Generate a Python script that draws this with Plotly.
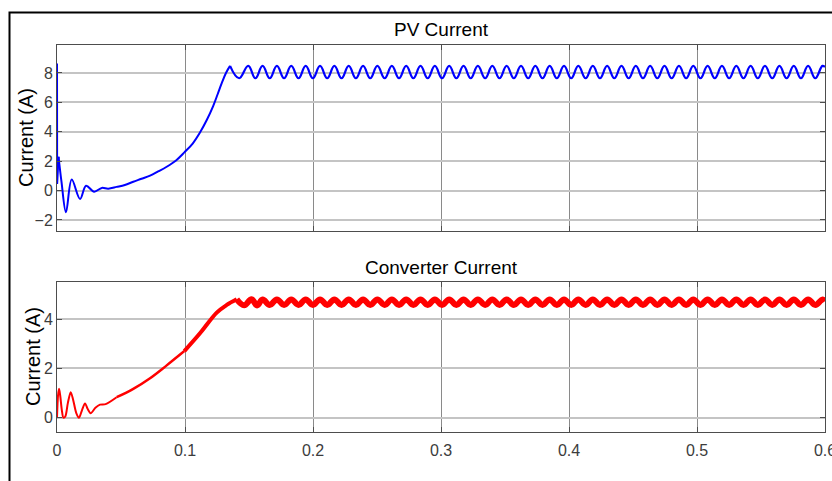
import plotly.graph_objects as go

# ---------------- data ----------------
# PV current: initial spike at t=0
pv_spike_t = [0.0, 0.0001, 0.0012]
pv_spike_i = [8.65, 0.45, 2.3]

# PV current: transient + rise
pv_rise_t = [0.0012, 0.0035, 0.007, 0.0115, 0.018, 0.0227, 0.029, 0.035, 0.040, 0.0466,
             0.053, 0.0596, 0.066, 0.0727, 0.079, 0.0857, 0.093, 0.0995, 0.106, 0.1117,
             0.117, 0.122, 0.1255, 0.1287, 0.132, 0.1352]
pv_rise_i = [2.3, 0.6, -1.48, 0.75, -0.57, 0.33, -0.08, 0.18, 0.13, 0.25,
             0.38, 0.6, 0.8, 1.02, 1.3, 1.62, 2.05, 2.6, 3.2, 3.95,
             4.8, 5.75, 6.55, 7.3, 8.0, 8.48]

# ripple extremes (peaks / troughs) of the steady state
ripple_peak_t = [0.1494, 0.1606, 0.1718, 0.1830, 0.1943, 0.2055, 0.2167, 0.2279, 0.2391, 0.2503,
                 0.2616, 0.2728, 0.2840, 0.2952, 0.3064, 0.3176, 0.3288, 0.3401, 0.3513, 0.3625,
                 0.3737, 0.3849, 0.3961, 0.4073, 0.4186, 0.4298, 0.4410, 0.4522, 0.4634, 0.4746,
                 0.4859, 0.4971, 0.5083, 0.5195, 0.5307, 0.5419, 0.5531, 0.5644, 0.5756, 0.5868,
                 0.5980]
ripple_trough_t = [0.1423, 0.1550, 0.1662, 0.1774, 0.1887, 0.1999, 0.2111, 0.2223, 0.2335, 0.2447,
                   0.2560, 0.2672, 0.2784, 0.2896, 0.3008, 0.3120, 0.3232, 0.3345, 0.3457, 0.3569,
                   0.3681, 0.3793, 0.3905, 0.4017, 0.4130, 0.4242, 0.4354, 0.4466, 0.4578, 0.4690,
                   0.4802, 0.4915, 0.5027, 0.5139, 0.5251, 0.5363, 0.5475, 0.5588, 0.5700, 0.5812,
                   0.5924]
pv_peak_i = 8.48
pv_trough_i = 7.64
pv_end = (0.6, 8.40)

# Converter current
conv_early_t = [0.0, 0.0008, 0.0016, 0.0025, 0.0038, 0.005, 0.0065, 0.0085, 0.0107, 0.0125,
                0.015, 0.0172, 0.0195, 0.0219, 0.024, 0.0263, 0.030, 0.0336, 0.038, 0.0466]
conv_early_i = [0.0, 0.9, 1.17, 0.9, 0.3, 0.0, 0.05, 0.6, 1.03, 0.75,
                0.2, 0.0, 0.3, 0.58, 0.35, 0.18, 0.4, 0.53, 0.55, 0.83]
conv_mid_t = [0.0466, 0.0596, 0.0727, 0.0857, 0.0995]
conv_mid_i = [0.83, 1.17, 1.6, 2.12, 2.7]
conv_late_t = [0.0995, 0.1117, 0.1248, 0.1326, 0.1404]
conv_late_i = [2.7, 3.42, 4.26, 4.57, 4.80]
conv_start_ripple_t = [0.1404, 0.1462, 0.1520, 0.1563]
conv_start_ripple_i = [4.80, 4.56, 4.80, 4.55]
conv_peak_i = 4.79
conv_trough_i = 4.57
conv_end = (0.6, 4.72)

x_ticks = [0, 0.1, 0.2, 0.3, 0.4, 0.5, 0.6]
x_tick_text = ["0", "0.1", "0.2", "0.3", "0.4", "0.5", "0.6"]
pv_y_ticks = [-2, 0, 2, 4, 6, 8]
conv_y_ticks = [0, 2, 4]

# ---------------- assemble ripple series ----------------
def merge(peaks_t, troughs_t, pv, tv, start_t, start_v, end):
    pts = [(t, pv) for t in peaks_t] + [(t, tv) for t in troughs_t]
    pts = [p for p in pts if p[0] > start_t[-1]]
    pts.sort()
    ts = list(start_t) + [p[0] for p in pts] + [end[0]]
    vs = list(start_v) + [p[1] for p in pts] + [end[1]]
    return ts, vs

pv_rip_t, pv_rip_i = merge(ripple_peak_t, ripple_trough_t, pv_peak_i, pv_trough_i,
                           [pv_rise_t[-1]], [pv_rise_i[-1]], pv_end)
cv_rip_t, cv_rip_i = merge(ripple_peak_t[1:], ripple_trough_t[2:], conv_peak_i, conv_trough_i,
                           conv_start_ripple_t, conv_start_ripple_i, conv_end)

BLUE = "#0000ff"
RED = "#ff0000"
FONT = "Liberation Sans, Arial, sans-serif"
TICKC = "#3c3c3c"

fig = go.Figure()
fig.add_trace(go.Scatter(x=pv_spike_t, y=pv_spike_i, mode="lines",
                         line=dict(color=BLUE, width=2), xaxis="x", yaxis="y"))
fig.add_trace(go.Scatter(x=pv_rise_t, y=pv_rise_i, mode="lines",
                         line=dict(color=BLUE, width=2, shape="spline", smoothing=1),
                         xaxis="x", yaxis="y"))
fig.add_trace(go.Scatter(x=pv_rip_t, y=pv_rip_i, mode="lines",
                         line=dict(color=BLUE, width=2.2, shape="spline", smoothing=1.2),
                         xaxis="x", yaxis="y"))

fig.add_trace(go.Scatter(x=conv_early_t, y=conv_early_i, mode="lines",
                         line=dict(color=RED, width=2, shape="spline", smoothing=0.8),
                         xaxis="x2", yaxis="y2"))
fig.add_trace(go.Scatter(x=conv_mid_t, y=conv_mid_i, mode="lines",
                         line=dict(color=RED, width=2.5, shape="spline", smoothing=1),
                         xaxis="x2", yaxis="y2"))
fig.add_trace(go.Scatter(x=conv_late_t, y=conv_late_i, mode="lines",
                         line=dict(color=RED, width=4, shape="spline", smoothing=1),
                         xaxis="x2", yaxis="y2"))
fig.add_trace(go.Scatter(x=cv_rip_t, y=cv_rip_i, mode="lines",
                         line=dict(color=RED, width=6, shape="spline", smoothing=1.2),
                         xaxis="x2", yaxis="y2"))

# geometry (pixels)
W, H = 832, 481
L, R, T, B = 57, 7, 45, 49
PH = H - T - B          # 387
PW = W - L - R          # 768
top_dom = [(432 - 231) / PH, 1.0]
bot_dom = [0.0, (432 - 282) / PH]

axis_common = dict(range=[0, 0.6], tickvals=x_ticks, ticktext=x_tick_text,
                   showgrid=True, gridcolor="#8a8a8a", gridwidth=1,
                   showline=True, linecolor="#4d4d4d", linewidth=1, mirror="all",
                   ticks="inside", ticklen=5, tickcolor="#4d4d4d",
                   zeroline=False, fixedrange=True, ticklabeloverflow="allow",
                   automargin=False,
                   tickfont=dict(family=FONT, size=16, color=TICKC))
yaxis_common = dict(showgrid=True, gridcolor="#c4c4c4", gridwidth=1.5,
                    showline=True, linecolor="#4d4d4d", linewidth=1, mirror="all",
                    ticks="inside", ticklen=5, tickcolor="#4d4d4d",
                    zeroline=False, fixedrange=True, automargin=False,
                    tickfont=dict(family=FONT, size=16, color=TICKC))

fig.update_layout(
    width=W, height=H,
    margin=dict(l=L, r=R, t=T, b=B, pad=0, autoexpand=False),
    paper_bgcolor="white", plot_bgcolor="white",
    showlegend=False,
    xaxis=dict(axis_common, domain=[0, 1], anchor="y", showticklabels=False),
    yaxis=dict(yaxis_common, domain=top_dom, range=[-2.75, 9.9], tickvals=pv_y_ticks,
               anchor="x"),
    xaxis2=dict(axis_common, domain=[0, 1], anchor="y2", showticklabels=True,
                ticklabelstandoff=4),
    yaxis2=dict(yaxis_common, domain=bot_dom, range=[-0.58, 5.5], tickvals=conv_y_ticks,
                anchor="x2"),
)

def px_x(x):
    return (x - L) / PW

def px_y(y):
    return (H - B - y) / PH

annotations = [
    dict(text="PV Current", x=px_x(441), y=px_y(30), xref="paper", yref="paper",
         showarrow=False, xanchor="center", yanchor="middle",
         font=dict(family=FONT, size=19, color="#000000")),
    dict(text="Converter Current", x=px_x(441), y=px_y(267), xref="paper", yref="paper",
         showarrow=False, xanchor="center", yanchor="middle",
         font=dict(family=FONT, size=19, color="#000000")),
    dict(text="Current (A)", x=px_x(26), y=px_y(138), xref="paper", yref="paper",
         showarrow=False, xanchor="center", yanchor="middle", textangle=-90,
         font=dict(family=FONT, size=20, color="#000000")),
    dict(text="Current (A)", x=px_x(33), y=px_y(357), xref="paper", yref="paper",
         showarrow=False, xanchor="center", yanchor="middle", textangle=-90,
         font=dict(family=FONT, size=20, color="#000000")),
]
fig.update_layout(annotations=annotations)

# outer black frame (extends beyond the right and bottom of the page)
fig.add_shape(type="rect", xref="paper", yref="paper",
              x0=px_x(9.5), x1=px_x(W + 20), y0=px_y(H + 20), y1=px_y(12.5),
              line=dict(color="black", width=2), fillcolor="rgba(0,0,0,0)", layer="above")

fig.write_html("out.html")
